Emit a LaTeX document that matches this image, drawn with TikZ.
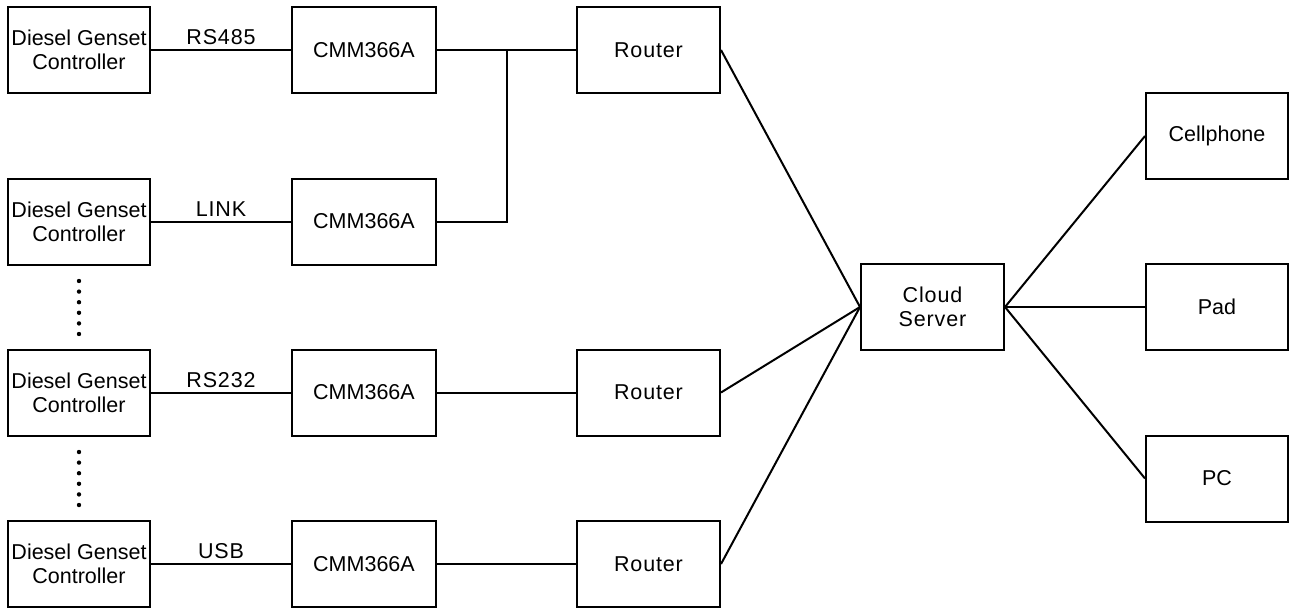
\documentclass[tikz,border=0pt]{standalone}
\usepackage{fontspec}
\setmainfont{Liberation Sans}
\newfontfamily\spacedfont[LetterSpace=4]{Liberation Sans}
\begin{document}
\begin{tikzpicture}[x=1pt,y=-1pt,
  box/.style={draw=black,line width=2pt,minimum height=86pt,inner sep=0pt,align=center,
    font=\fontsize{21.5}{24}\selectfont},
  dgc/.style={box,minimum width=142pt},
  cmm/.style={box,minimum width=144pt},
  rtr/.style={box,minimum width=143pt,font=\spacedfont\fontsize{21.5}{24}\selectfont},
  dev/.style={box,minimum width=142pt},
  link/.style={draw=black,line width=2pt},
  lbl/.style={above=4pt,inner sep=0pt,font=\spacedfont\fontsize{21.5}{24}\selectfont}]
\useasboundingbox (0,0) rectangle (1289,608);
% left column
\node[dgc] (d1) at (79,50) {Diesel Genset\\Controller};
\node[dgc] (d2) at (79,221.5) {Diesel Genset\\Controller};
\node[dgc] (d3) at (79,392.5) {Diesel Genset\\Controller};
\node[dgc] (d4) at (79,564) {Diesel Genset\\Controller};
% CMM column
\node[cmm] (c1) at (364,50) {CMM366A};
\node[cmm] (c2) at (364,221.5) {CMM366A};
\node[cmm] (c3) at (364,392.5) {CMM366A};
\node[cmm] (c4) at (364,564) {CMM366A};
% routers
\node[rtr] (r1) at (648.5,50) {Router};
\node[rtr] (r3) at (648.5,392.5) {Router};
\node[rtr] (r4) at (648.5,564) {Router};
% cloud
\node[rtr] (cs) at (932.5,307) {Cloud\\Server};
% devices
\node[dev] (cp) at (1217,136) {Cellphone};
\node[dev] (pad) at (1217,307) {Pad};
\node[dev] (pc) at (1217,478.5) {PC};
\coordinate (j) at (507,50);
% connectors
\draw[link] (d1) -- node[lbl] {RS485} (c1);
\draw[link] (d2) -- node[lbl] {LINK} (c2);
\draw[link] (d3) -- node[lbl] {RS232} (c3);
\draw[link] (d4) -- node[lbl] {USB} (c4);
\draw[link] (c1) -- (r1);
\draw[link] (c2.east) -| (j);
\draw[link] (c3) -- (r3);
\draw[link] (c4) -- (r4);
\draw[link] (r1.east) -- (cs.west);
\draw[link] (r3.east) -- (cs.west);
\draw[link] (r4.east) -- (cs.west);
\draw[link] (cs.east) -- (cp.west);
\draw[link] (cs.east) -- (pad.west);
\draw[link] (cs.east) -- (pc.west);
% ellipsis dots
\foreach \yy in {281,291.6,302.2,312.8,323.4,334}{\fill (79,\yy) circle (2.2pt);}
\foreach \yy in {452,462.6,473.2,483.8,494.4,505}{\fill (79,\yy) circle (2.2pt);}
\end{tikzpicture}
\end{document}
